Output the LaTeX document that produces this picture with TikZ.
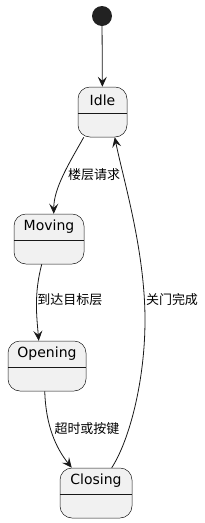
\documentclass[tikz,border=0pt]{standalone}
\usepackage{fontspec}
\setmainfont{DejaVu Sans}
\newfontfamily\cjk{Noto Sans CJK SC}
\usepackage{xcolor}
\usetikzlibrary{arrows.meta}

\definecolor{statefill}{HTML}{F1F1F1}
\definecolor{stateline}{HTML}{181818}
\definecolor{startfill}{HTML}{222222}

\begin{document}
\begin{tikzpicture}[x=1pt,y=-1pt,
  state/.style={draw=stateline,line width=0.5pt,fill=statefill,rounded corners=12pt,
    minimum height=50pt,inner sep=0pt},
  trans/.style={draw=stateline,line width=0.8pt,-{Stealth[length=10pt,width=9pt,inset=4pt]}},
  lbl/.style={font=\cjk\fontsize{13}{13}\selectfont,inner sep=0pt}]
  \useasboundingbox (0,0) rectangle (204,523);
  % initial state
  \node[circle,fill=startfill,minimum size=20pt,inner sep=0pt] (start) at (102,16) {};
  % states with name and empty body
  \foreach \nm/\txt/\cx/\cy/\w in {
    idle/Idle/102.5/112/49, moving/Moving/49/239/70,
    opening/Opening/47/366/78, closing/Closing/96/493/72}
  {
    \node[state,minimum width=\w] (\nm) at (\cx,\cy) {};
    \node[font=\fontsize{14}{14}\selectfont,inner sep=0pt] (\nm-name) at ([yshift=12pt]\nm.center) {\txt};
    \draw[stateline,line width=0.5pt] ([yshift=-1pt]\nm.west) -- ([yshift=-1pt]\nm.east);
  }
  % transitions
  \draw[trans] (start) -- (idle);
  \draw[trans] ([xshift=6pt]idle.south west) .. controls +(-14,25) and +(0,-26) .. ([xshift=40pt]moving.north west);
  \draw[trans] ([xshift=28pt]moving.south west) .. controls +(-8,30) and +(-2,-24) .. ([xshift=31pt]opening.north west);
  \draw[trans] ([xshift=37pt]opening.south west) .. controls +(1,34) and +(-16,-20) .. ([xshift=12pt]closing.north west);
  \draw[trans] ([xshift=52pt]closing.north west) .. controls +(18,-28) and +(0,60) .. (145,320)
    .. controls +(0,-70) and +(8,40) .. ([xshift=37pt]idle.south west);
  % transition labels
  \node[lbl] (l-req) at (94,175) {楼层请求};
  \node[lbl] (l-arr) at (70,300) {到达目标层};
  \node[lbl] (l-close) at (172,300) {关门完成};
  \node[lbl] (l-time) at (87,429) {超时或按键};
\end{tikzpicture}
\end{document}
